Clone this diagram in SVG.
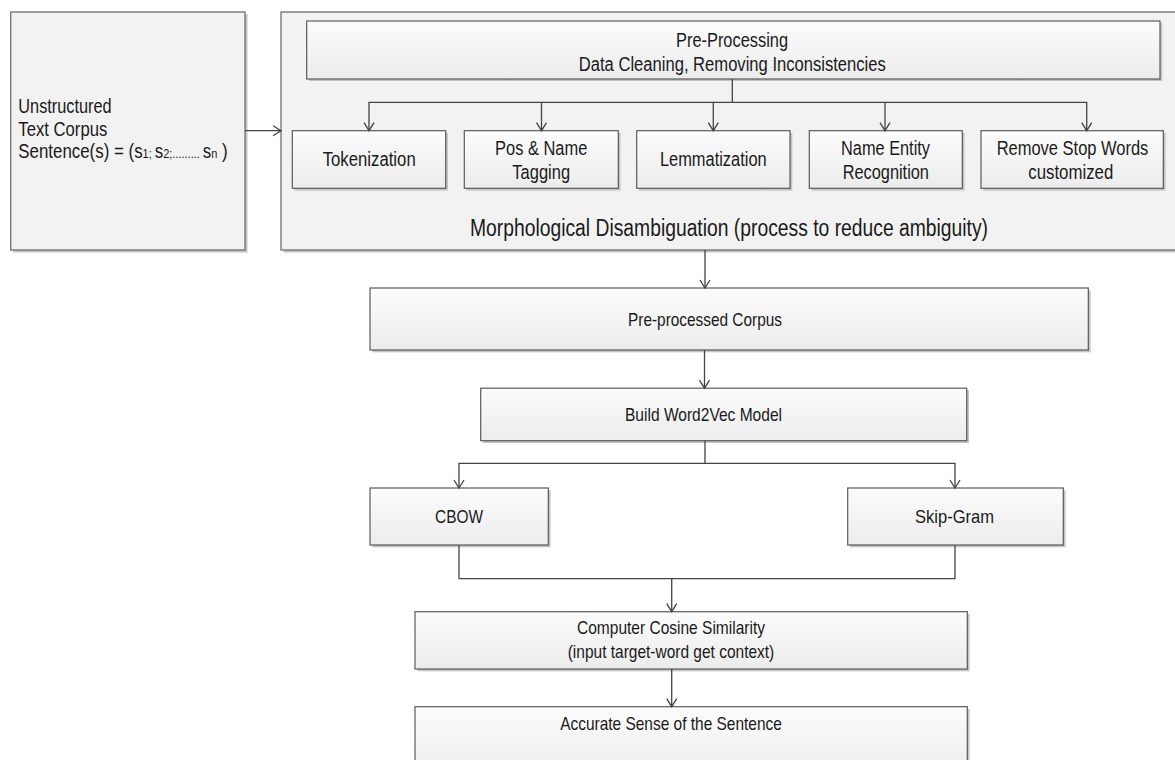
<svg xmlns="http://www.w3.org/2000/svg" width="1175" height="760" viewBox="0 0 1175 760">
<defs>
<linearGradient id="g" x1="0" y1="0" x2="0" y2="1">
<stop offset="0" stop-color="#fcfcfc"/>
<stop offset="1" stop-color="#ececec"/>
</linearGradient>
<marker id="arr" viewBox="-10 -7 12 14" refX="0" refY="0" markerWidth="12" markerHeight="14" markerUnits="userSpaceOnUse" orient="auto">
<path d="M-8,-5 L0,0 L-8,5" fill="none" stroke="#444" stroke-width="1.3"/>
</marker>
</defs>
<style>
.sh{fill:#c4c4c4}
.bx{fill:url(#g);stroke:#5a5a5a;stroke-width:1.2}
.big{fill:#f2f2f2;stroke:#7a7a7a;stroke-width:1.4}
.t{font-family:'Liberation Sans Narrow','Liberation Sans',Arial,sans-serif;font-size:20px;fill:#1a1a1a;text-anchor:middle}
.s{font-size:19px}
.c{fill:none;stroke:#444;stroke-width:1.3}
</style>
<rect width="1175" height="760" fill="#ffffff"/>

<g id="input">
<rect class="sh" x="13" y="14" width="234.5" height="238.5"/>
<rect class="big" x="10.7" y="12" width="234.3" height="238"/>
<text class="t" style="text-anchor:start" x="18.3" y="112.6" textLength="93.3" lengthAdjust="spacingAndGlyphs">Unstructured</text>
<text class="t" style="text-anchor:start" x="18.3" y="136" textLength="89" lengthAdjust="spacingAndGlyphs">Text Corpus</text>
<text class="t" style="text-anchor:start" x="18.3" y="157.6" textLength="209.4" lengthAdjust="spacingAndGlyphs">Sentence(s) = (s<tspan font-size="13">1; </tspan>s<tspan font-size="13">2;......... </tspan>s<tspan font-size="13">n</tspan> )</text>
</g>

<g id="morphological">
<rect class="sh" x="283.5" y="14" width="900" height="238.5"/>
<rect class="big" x="281" y="12" width="900" height="238"/>
<text class="t" style="font-size:23.5px" x="729" y="235.5" textLength="518" lengthAdjust="spacingAndGlyphs">Morphological Disambiguation (process to reduce ambiguity)</text>
</g>

<g id="preprocessing">
<rect class="sh" x="309" y="23" width="853.3" height="58"/>
<rect class="bx" x="306.7" y="21" width="853.3" height="58"/>
<text class="t" x="732" y="46.7" textLength="112" lengthAdjust="spacingAndGlyphs">Pre-Processing</text>
<text class="t" x="732.3" y="71" textLength="307" lengthAdjust="spacingAndGlyphs">Data Cleaning, Removing Inconsistencies</text>
</g>

<g id="tokenization">
<rect class="sh" x="294.5" y="133" width="153.4" height="57.6"/>
<rect class="bx" x="292.3" y="130.7" width="153.4" height="57.6"/>
<text class="t" x="369.2" y="166" textLength="93" lengthAdjust="spacingAndGlyphs">Tokenization</text>
</g>

<g id="pos-tagging">
<rect class="sh" x="466.5" y="133" width="154" height="57.6"/>
<rect class="bx" x="464.3" y="130.7" width="154" height="57.6"/>
<text class="t" x="541.2" y="154.5" textLength="92.3" lengthAdjust="spacingAndGlyphs">Pos &amp; Name</text>
<text class="t" x="541.2" y="179.3" textLength="57.7" lengthAdjust="spacingAndGlyphs">Tagging</text>
</g>

<g id="lemmatization">
<rect class="sh" x="639" y="133" width="153.3" height="57.6"/>
<rect class="bx" x="636.7" y="130.7" width="153.3" height="57.6"/>
<text class="t" x="713.3" y="166" textLength="106.7" lengthAdjust="spacingAndGlyphs">Lemmatization</text>
</g>

<g id="ner">
<rect class="sh" x="811.5" y="133" width="153" height="57.6"/>
<rect class="bx" x="809.3" y="130.7" width="153" height="57.6"/>
<text class="t" x="885.5" y="154.5" textLength="89" lengthAdjust="spacingAndGlyphs">Name Entity</text>
<text class="t" x="885.8" y="179.3" textLength="86.3" lengthAdjust="spacingAndGlyphs">Recognition</text>
</g>

<g id="stopwords">
<rect class="sh" x="983.3" y="133" width="182.3" height="57.6"/>
<rect class="bx" x="981" y="130.7" width="182.3" height="57.6"/>
<text class="t" x="1072.5" y="154.5" textLength="151.7" lengthAdjust="spacingAndGlyphs">Remove Stop Words</text>
<text class="t" x="1070.8" y="179.3" textLength="85" lengthAdjust="spacingAndGlyphs">customized</text>
</g>

<g id="preprocessed-corpus">
<rect class="sh" x="372.3" y="290.3" width="718.3" height="62"/>
<rect class="bx" x="370" y="288" width="718.3" height="62"/>
<text class="t s" x="705" y="325.5" textLength="154" lengthAdjust="spacingAndGlyphs">Pre-processed Corpus</text>
</g>

<g id="word2vec">
<rect class="sh" x="483" y="390.5" width="486" height="52.5"/>
<rect class="bx" x="480.7" y="388.2" width="486" height="52.5"/>
<text class="t s" x="703.5" y="420.8" textLength="157" lengthAdjust="spacingAndGlyphs">Build Word2Vec Model</text>
</g>

<g id="cbow">
<rect class="sh" x="372.3" y="490.3" width="178.3" height="57"/>
<rect class="bx" x="370" y="488" width="178.3" height="57"/>
<text class="t s" x="459" y="522.5" textLength="48" lengthAdjust="spacingAndGlyphs">CBOW</text>
</g>

<g id="skipgram">
<rect class="sh" x="850" y="490.3" width="215.6" height="57"/>
<rect class="bx" x="847.7" y="488" width="215.6" height="57"/>
<text class="t s" x="954.5" y="522.5" textLength="79" lengthAdjust="spacingAndGlyphs">Skip-Gram</text>
</g>

<g id="cosine">
<rect class="sh" x="417.3" y="614" width="552.3" height="57.3"/>
<rect class="bx" x="415" y="611.7" width="552.3" height="57.3"/>
<text class="t s" x="671" y="633.6" textLength="188" lengthAdjust="spacingAndGlyphs">Computer Cosine Similarity</text>
<text class="t s" x="671" y="657.8" textLength="206.6" lengthAdjust="spacingAndGlyphs">(input target-word get context)</text>
</g>

<g id="accurate-sense">
<rect class="sh" x="417.3" y="709" width="552.3" height="70"/>
<rect class="bx" x="415" y="706.7" width="552.3" height="70"/>
<text class="t s" x="671" y="729.6" textLength="221.7" lengthAdjust="spacingAndGlyphs">Accurate Sense of the Sentence</text>
</g>

<g id="connectors">
<path class="c" d="M245,130.7 H281" marker-end="url(#arr)"/>
<path class="c" d="M732.3,79 V102.3 H369 V130.7" marker-end="url(#arr)"/>
<path class="c" d="M541.5,102.3 V130.7" marker-end="url(#arr)"/>
<path class="c" d="M713.3,102.3 V130.7" marker-end="url(#arr)"/>
<path class="c" d="M885,102.3 V130.7" marker-end="url(#arr)"/>
<path class="c" d="M732.3,102.3 H1086.7 V130.7" marker-end="url(#arr)"/>
<path class="c" d="M705,250 V288" marker-end="url(#arr)"/>
<path class="c" d="M704.5,350 V388.2" marker-end="url(#arr)"/>
<path class="c" d="M705,440.7 V463.3 H459 V488" marker-end="url(#arr)"/>
<path class="c" d="M705,463.3 H955 V488" marker-end="url(#arr)"/>
<path class="c" d="M459,545 V578.7 H955 V545"/>
<path class="c" d="M671.7,578.7 V611.7" marker-end="url(#arr)"/>
<path class="c" d="M671.7,669 V706.7" marker-end="url(#arr)"/>
</g>
</svg>
